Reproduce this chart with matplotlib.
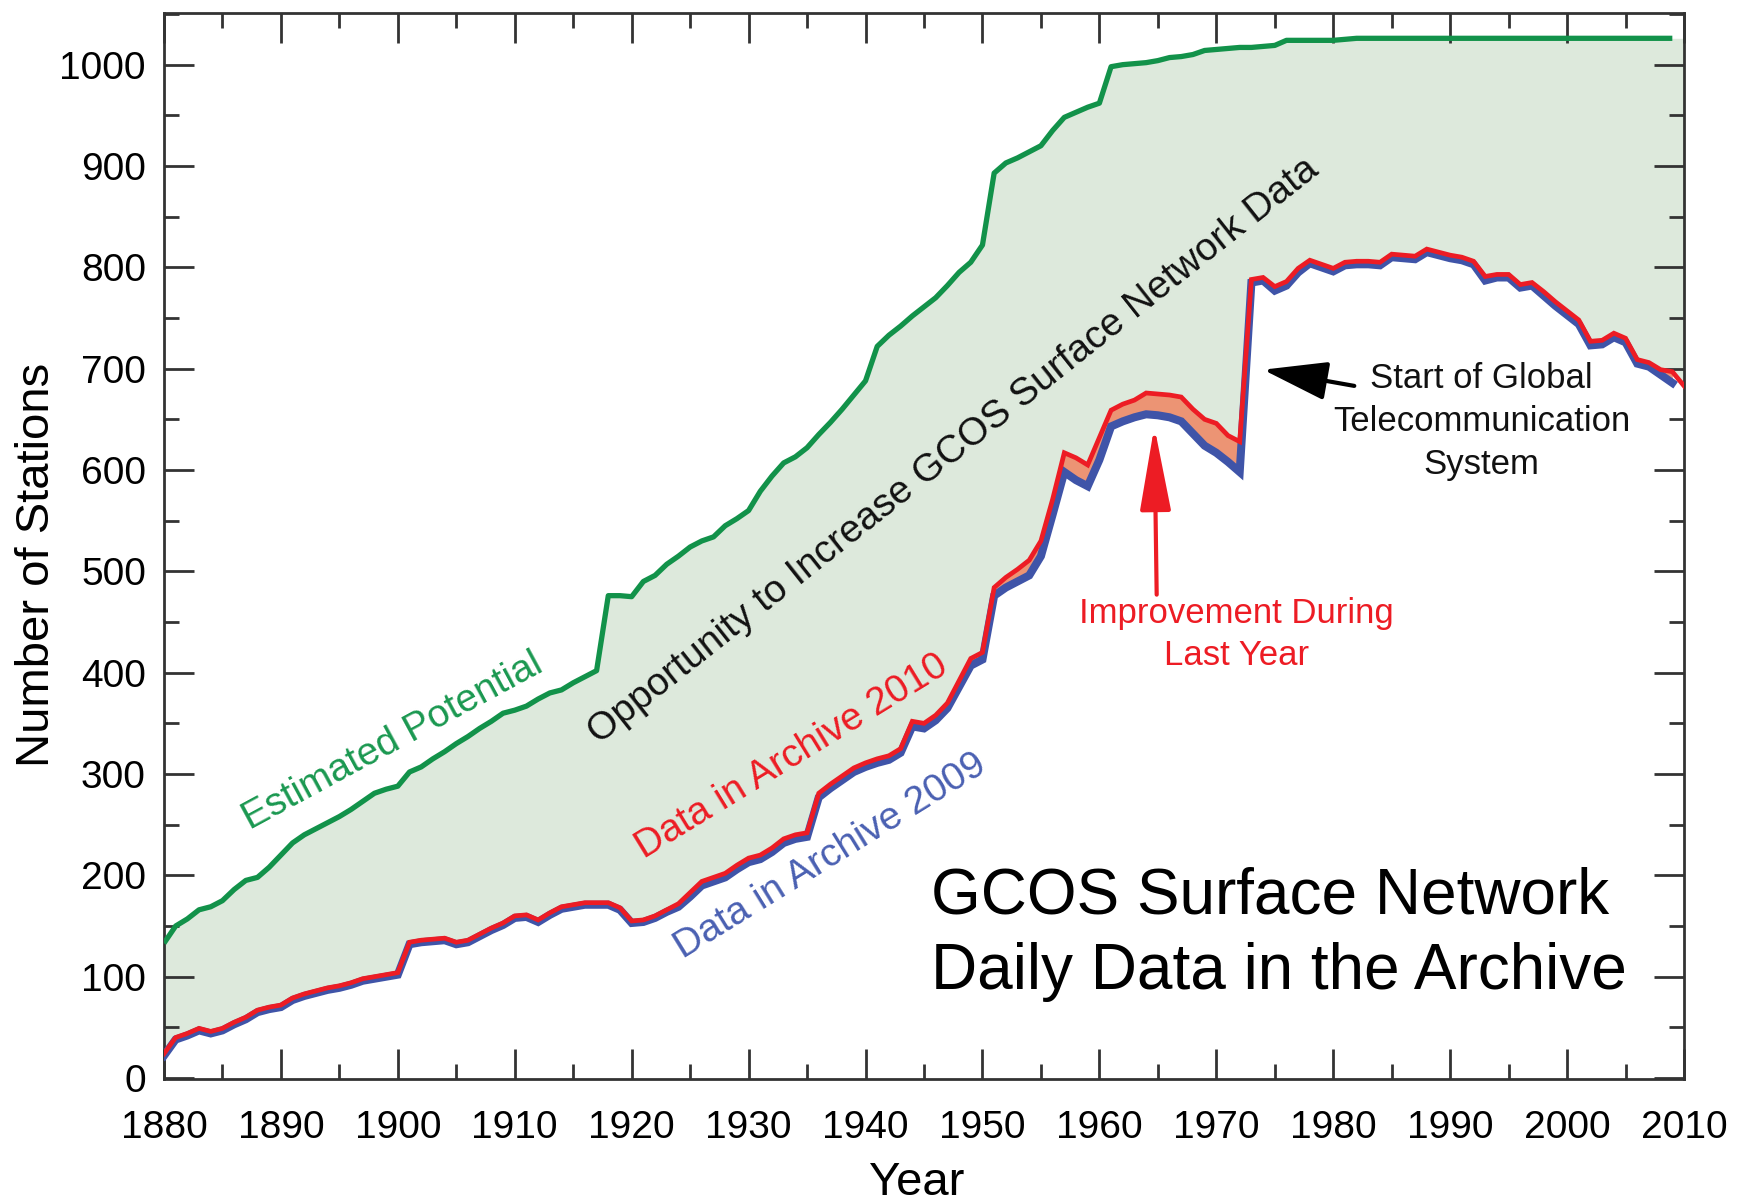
import matplotlib
matplotlib.use('Agg')
import matplotlib.pyplot as plt
import numpy as np
from matplotlib.ticker import MultipleLocator

plt.rcParams['font.family'] = ['Liberation Sans', 'DejaVu Sans']

# data, one value per year
years = np.arange(1880, 2011)

# Estimated Potential, 1880-2009
potential = [133, 150, 157, 166, 169, 175, 186, 195, 198, 208,
             220, 232, 240, 246, 252, 258, 265, 273, 281, 285,
             288, 302, 307, 315, 322, 330, 337, 345, 352, 360,
             363, 367, 374, 380, 383, 390, 396, 402, 476, 476,
             475, 490, 496, 507, 515, 524, 530, 534, 545, 552,
             560, 579, 594, 607, 613, 622, 635, 647, 660, 674,
             688, 722, 733, 742, 752, 761, 770, 782, 795, 805,
             822, 893, 903, 908, 914, 920, 935, 948, 953, 958,
             962, 998, 1000, 1001, 1002, 1004, 1007, 1008, 1010, 1014,
             1015, 1016, 1017, 1017, 1018, 1019, 1024, 1024, 1024, 1024,
             1024, 1025, 1026, 1026, 1026, 1026, 1026, 1026, 1026, 1026,
             1026, 1026, 1026, 1026, 1026, 1026, 1026, 1026, 1026, 1026,
             1026, 1026, 1026, 1026, 1026, 1026, 1026, 1026, 1026, 1026]

# Data in Archive 2010, 1880-2010
archive_2010 = [24, 40, 44, 49, 46, 49, 55, 60, 67, 70,
                72, 79, 83, 86, 89, 91, 94, 98, 100, 102,
                104, 134, 136, 137, 138, 134, 136, 142, 148, 153,
                160, 161, 156, 163, 169, 171, 173, 173, 173, 168,
                155, 156, 160, 166, 172, 183, 194, 198, 202, 210,
                217, 220, 227, 236, 240, 242, 281, 290, 298, 306,
                311, 315, 318, 325, 352, 350, 358, 370, 392, 414,
                420, 484, 494, 502, 511, 530, 571, 617, 612, 605,
                632, 659, 665, 669, 676, 675, 674, 672, 660, 650,
                646, 634, 628, 788, 790, 781, 786, 799, 807, 803,
                799, 805, 806, 806, 805, 813, 812, 811, 818, 815,
                812, 810, 806, 791, 793, 793, 783, 785, 776, 766,
                757, 748, 727, 728, 735, 730, 709, 706, 699, 697,
                683]

# Data in Archive 2009, 1880-2009
archive_2009 = [22, 38, 42, 47, 44, 47, 53, 58, 65, 68,
                70, 77, 81, 84, 87, 89, 92, 96, 98, 100,
                102, 132, 134, 135, 136, 132, 134, 140, 146, 151,
                158, 159, 154, 161, 167, 169, 171, 171, 171, 166,
                153, 154, 158, 164, 169, 179, 190, 194, 198, 206,
                213, 216, 223, 232, 236, 238, 277, 286, 294, 302,
                307, 311, 314, 321, 347, 345, 353, 365, 386, 407,
                413, 476, 484, 490, 496, 515, 556, 598, 590, 584,
                610, 643, 648, 652, 655, 654, 652, 648, 636, 624,
                617, 608, 598, 785, 787, 777, 782, 795, 804, 800,
                796, 802, 803, 803, 802, 810, 809, 808, 815, 812,
                809, 807, 803, 787, 790, 790, 780, 782, 772, 762,
                753, 744, 723, 724, 731, 726, 705, 702, 694, 686]

green = '#12924a'
red = '#ed1c24'
blue = '#3f54a8'

fig = plt.figure(figsize=(17.48, 12.02), dpi=100)
ax = fig.add_axes([0.0938, 0.1023, 0.8696, 0.8869])

# shaded gap between potential and archive (runs to the right edge)
pot_fill = potential + [potential[-1]]
ax.fill_between(years, archive_2010, pot_fill, color='#dde9dc', lw=0, zorder=1)
# improvement during last year
ax.fill_between(years[:-1], archive_2009, archive_2010[:-1], color='#ec9474', lw=0, zorder=2)

ax.plot(years[:-1], potential, color=green, lw=3.8, solid_capstyle='butt', zorder=3)
ax.plot(years[:-1], archive_2009, color=blue, lw=5.8, solid_joinstyle='miter', zorder=3)
ax.plot(years, archive_2010, color=red, lw=3.4, solid_joinstyle='miter', zorder=4)

ax.set_xlim(1880, 2010)
ax.set_ylim(-1, 1051)
ax.set_xticks(np.arange(1880, 2011, 10))
ax.set_yticks(np.arange(0, 1001, 100))
ax.xaxis.set_minor_locator(MultipleLocator(5))
ax.yaxis.set_minor_locator(MultipleLocator(50))
ax.tick_params(which='both', direction='in', top=True, right=True, width=2, color='#333333')
ax.tick_params(which='major', length=21.6)
ax.tick_params(which='minor', length=10.8)
ax.tick_params(axis='x', labelsize=28, pad=22)
ax.tick_params(axis='y', labelsize=28, pad=13)
for s in ax.spines.values():
    s.set_linewidth(2)
    s.set_color('#333333')

ax.set_xlabel('Year', fontsize=34)
ax.xaxis.set_label_coords(0.495, -0.077)
ax.set_ylabel('Number of Stations', fontsize=34)
ax.yaxis.set_label_coords(-0.069, 0.482)

# rotated labels along the curves
ax.text(1899.6, 332, 'Estimated Potential', color='#1a9850', fontsize=28,
        rotation=28.4, rotation_mode='anchor', ha='center', va='center', zorder=5)
ax.text(1947.5, 619, 'Opportunity to Increase GCOS Surface Network Data', color='#111111',
        fontsize=28, rotation=38.4, rotation_mode='anchor', ha='center', va='center', zorder=5)
ax.text(1933.7, 317, 'Data in Archive 2010', color=red, fontsize=28,
        rotation=31.5, rotation_mode='anchor', ha='center', va='center', zorder=5)
ax.text(1937.0, 219, 'Data in Archive 2009', color='#4a60b2', fontsize=28,
        rotation=31.7, rotation_mode='anchor', ha='center', va='center', zorder=5)

ax.text(1971.7, 438, 'Improvement During\nLast Year', color=red, fontsize=25,
        ha='center', va='center', linespacing=1.35, zorder=5)
ax.annotate('', xy=(1964.7, 643), xytext=(1964.9, 477),
            arrowprops=dict(arrowstyle='-|>,head_length=1.3,head_width=0.24',
                            color=red, lw=3, mutation_scale=40, shrinkA=0, shrinkB=0),
            zorder=5)

ax.text(1992.7, 648, 'Start of Global\nTelecommunication\nSystem', color='#111111',
        fontsize=25, ha='center', va='center', linespacing=1.38, zorder=5)
ax.annotate('', xy=(1974.0, 699), xytext=(1981.8, 683),
            arrowprops=dict(arrowstyle='-|>,head_length=1.0,head_width=0.3',
                            color='black', lw=3, mutation_scale=40, shrinkA=0, shrinkB=0),
            zorder=5)

ax.text(1945.6, 142, 'GCOS Surface Network\nDaily Data in the Archive', color='black',
        fontsize=46, ha='left', va='center', linespacing=1.33, zorder=5)

fig.savefig('out.png', dpi=100)
